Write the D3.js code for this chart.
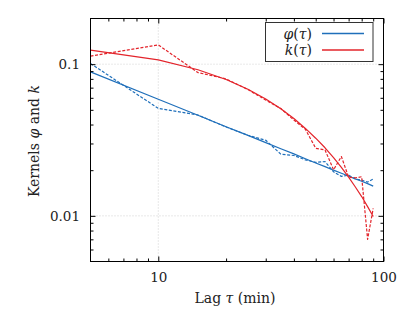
<!DOCTYPE html>
<html><head><meta charset="utf-8">
<script src="https://cdn.jsdelivr.net/npm/d3@7"></script>
<style>body{margin:0;background:#fff}svg{display:block}</style>
</head><body><svg id="c" width="407" height="313"></svg>
<script>
// ---- data ----
const lags   = [5,10,15,20,25,30,35,40,45,50,55,60,65,70,75,80,85,90];
const phiEmp = [0.101,0.0511,0.0462,0.0385,0.0340,0.0315,0.0255,0.0250,0.0234,0.0225,0.0228,0.0195,0.0182,0.0185,0.0175,0.0172,0.0167,0.0175];
const phiFit = [0.0890,0.0587,0.0460,0.0387,0.0339,0.0304,0.0277,0.0256,0.0238,0.0223,0.0211,0.0200,0.0191,0.0183,0.0175,0.0169,0.0163,0.0157];
const kEmp   = [0.113,0.134,0.088,0.080,0.068,0.058,0.051,0.0428,0.0372,0.0279,0.0272,0.0201,0.0246,0.0180,0.0178,0.0181,0.0070,0.0112];
const kFit   = [0.1236,0.1066,0.0919,0.0792,0.0683,0.0589,0.0508,0.0438,0.0377,0.0325,0.0281,0.0242,0.0209,0.0180,0.0155,0.0134,0.0115,0.0099];
const xMajor = [10,100];
const xMinor = [6,7,8,9,20,30,40,50,60,70,80,90];
const yMajor = [0.01,0.1];
const yMinor = [0.006,0.007,0.008,0.009,0.02,0.03,0.04,0.05,0.06,0.07,0.08,0.09];
const xTickLabels = ["10","100"];
const yTickLabels = ["0.01","0.1"];
const seriesNames = ["\u03C6","k"];

// ---- layout ----
const svg = d3.select("#c");
const L=90.5, R=383.5, T=18.5, B=261.5;
const x = d3.scaleLog().domain([5,100]).range([L,R]);
const y = d3.scaleLog().domain([0.005,0.2]).range([B,T]);
const font = "'DejaVu Serif','Liberation Serif',serif";
const blue = "#1f6fba", red = "#e3242b";

// grid
const g = svg.append("g");
g.selectAll(".gx").data([10]).join("line")
  .attr("x1",d=>x(d)).attr("x2",d=>x(d)).attr("y1",T).attr("y2",B)
  .attr("stroke","#c8c8c8").attr("stroke-width",0.8).attr("stroke-dasharray","1,2");
g.selectAll(".gy").data(yMajor).join("line")
  .attr("y1",d=>y(d)).attr("y2",d=>y(d)).attr("x1",L).attr("x2",R)
  .attr("stroke","#c8c8c8").attr("stroke-width",0.8).attr("stroke-dasharray","1,2");

// clip
svg.append("clipPath").attr("id","clip").append("rect")
  .attr("x",L).attr("y",T).attr("width",R-L).attr("height",B-T);
const plot = svg.append("g").attr("clip-path","url(#clip)");
const line = d3.line().x(d=>x(d[0])).y(d=>y(d[1]));
function draw(vals,color,dash){
  plot.append("path").datum(lags.map((l,i)=>[l,vals[i]]))
    .attr("d",line).attr("fill","none").attr("stroke",color)
    .attr("stroke-width",1.2).attr("stroke-dasharray",dash||null)
    .attr("stroke-linejoin","round");
}
draw(phiEmp,blue,"3,1.6");
draw(phiFit,blue);
draw(kEmp,red,"3,1.6");
draw(kFit,red);

// axes
function styleAxis(sel){
  sel.select(".domain").remove();
  sel.selectAll(".tick line").attr("stroke","#000").attr("stroke-width",1);
  sel.selectAll("text").attr("font-family",font).attr("font-size",13.5).attr("fill","#222");
}
svg.append("g").attr("transform",`translate(0,${B})`)
  .call(d3.axisBottom(x).tickValues(xMajor).tickSize(-5).tickPadding(11)
    .tickFormat((d,i)=>xTickLabels[i])).call(styleAxis);
svg.append("g").attr("transform",`translate(0,${B})`)
  .call(d3.axisBottom(x).tickValues(xMinor).tickSize(-3).tickFormat("")).call(styleAxis);
svg.append("g").attr("transform",`translate(0,${T})`)
  .call(d3.axisTop(x).tickValues(xMajor).tickSize(-5).tickFormat("")).call(styleAxis);
svg.append("g").attr("transform",`translate(0,${T})`)
  .call(d3.axisTop(x).tickValues(xMinor).tickSize(-3).tickFormat("")).call(styleAxis);
svg.append("g").attr("transform",`translate(${L},0)`)
  .call(d3.axisLeft(y).tickValues(yMajor).tickSize(-5).tickPadding(10.5)
    .tickFormat((d,i)=>yTickLabels[i])).call(styleAxis);
svg.append("g").attr("transform",`translate(${L},0)`)
  .call(d3.axisLeft(y).tickValues(yMinor).tickSize(-3).tickFormat("")).call(styleAxis);
svg.append("g").attr("transform",`translate(${R},0)`)
  .call(d3.axisRight(y).tickValues(yMajor).tickSize(-5).tickFormat("")).call(styleAxis);
svg.append("g").attr("transform",`translate(${R},0)`)
  .call(d3.axisRight(y).tickValues(yMinor).tickSize(-3).tickFormat("")).call(styleAxis);

// frame
svg.append("rect").attr("x",L).attr("y",T).attr("width",R-L).attr("height",B-T)
  .attr("fill","none").attr("stroke","#000").attr("stroke-width",1);

// axis labels
const xl = svg.append("text").attr("x",235).attr("y",303).attr("text-anchor","middle")
  .attr("font-family",font).attr("font-size",14).attr("fill","#222");
xl.append("tspan").text("Lag ");
xl.append("tspan").attr("font-style","italic").text("\u03C4");
xl.append("tspan").text(" (min)");
const yl = svg.append("text").attr("transform","translate(39,141) rotate(-90)")
  .attr("text-anchor","middle").attr("font-family",font).attr("font-size",14).attr("fill","#222");
yl.append("tspan").text("Kernels ");
yl.append("tspan").attr("font-style","italic").text("\u03C6");
yl.append("tspan").text(" and ");
yl.append("tspan").attr("font-style","italic").text("k");

// legend
svg.append("rect").attr("x",265.5).attr("y",22.5).attr("width",107.5).attr("height",39)
  .attr("fill","#fff").attr("stroke","#333").attr("stroke-width",1);
[[seriesNames[0],blue,33.5],[seriesNames[1],red,50]].forEach(([n,c,yy])=>{
  const t = svg.append("text").attr("x",312).attr("y",yy+5).attr("text-anchor","end")
    .attr("font-family",font).attr("font-size",14).attr("fill","#222");
  t.append("tspan").attr("font-style","italic").text(n);
  t.append("tspan").text("(");
  t.append("tspan").attr("font-style","italic").text("\u03C4");
  t.append("tspan").text(")");
  svg.append("line").attr("x1",322).attr("x2",364).attr("y1",yy).attr("y2",yy)
    .attr("stroke",c).attr("stroke-width",1.3);
});
</script></body></html>
